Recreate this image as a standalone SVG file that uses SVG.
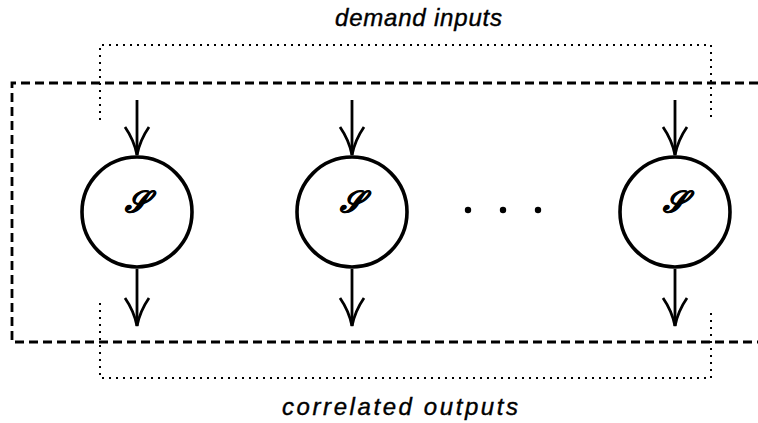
<svg xmlns="http://www.w3.org/2000/svg" width="758" height="423" viewBox="0 0 758 423">
<defs>
<style>
.lbl{font-family:"Liberation Sans",Arial,sans-serif;font-style:italic;font-size:24px;fill:#000;stroke:#000;stroke-width:0.4}
.sym{font-family:"DejaVu Serif","Liberation Serif",serif;font-style:italic;font-weight:bold;font-size:30px;fill:#000;stroke:#000;stroke-width:0.8}
.node{fill:#fff;stroke:#000;stroke-width:3.6}
.dash{fill:none;stroke:#000;stroke-width:2.8;stroke-dasharray:9 5}
.dot{fill:none;stroke:#000;stroke-width:2;stroke-dasharray:2 5}
.arr{fill:none;stroke:#000;stroke-width:2.8}
.head{fill:none;stroke:#000;stroke-width:2.8;stroke-linejoin:miter}
</style>
</defs>
<rect width="758" height="423" fill="#fff"/>
<g id="boundary">
<path class="dash" d="M758,83 H12 V342 H758"/>
<path class="dot" d="M100,120 V45 H711 V117"/>
<path class="dot" d="M100,303 V378 H711 V308"/>
</g>
<g id="connectors">
<path class="arr" d="M137,100 V155"/>
<path class="head" d="M125,127 Q134,140 137,155 Q140,140 149,127"/>
<path class="arr" d="M137,269 V326"/>
<path class="head" d="M125,298 Q134,311 137,326 Q140,311 149,298"/>
<path class="arr" d="M352,100 V155"/>
<path class="head" d="M340,127 Q349,140 352,155 Q355,140 364,127"/>
<path class="arr" d="M352,269 V326"/>
<path class="head" d="M340,298 Q349,311 352,326 Q355,311 364,298"/>
<path class="arr" d="M675,100 V155"/>
<path class="head" d="M663,127 Q672,140 675,155 Q678,140 687,127"/>
<path class="arr" d="M675,269 V326"/>
<path class="head" d="M663,298 Q672,311 675,326 Q678,311 687,298"/>
</g>
<g id="node1"><circle class="node" cx="137" cy="212" r="55"/><text class="sym" x="136" y="212" text-anchor="middle">𝒮</text></g>
<g id="node2"><circle class="node" cx="352" cy="212" r="55"/><text class="sym" x="351" y="212" text-anchor="middle">𝒮</text></g>
<g id="node3"><circle class="node" cx="675" cy="212" r="55"/><text class="sym" x="674" y="212" text-anchor="middle">𝒮</text></g>
<g id="ellipsis">
<circle cx="468" cy="210" r="3.2" fill="#000"/>
<circle cx="503" cy="210" r="3.2" fill="#000"/>
<circle cx="538" cy="210" r="3.2" fill="#000"/>
</g>
<text class="lbl" x="335" y="26" textLength="167" lengthAdjust="spacing">demand inputs</text>
<text class="lbl" x="282" y="415" textLength="236" lengthAdjust="spacing">correlated outputs</text>
</svg>
